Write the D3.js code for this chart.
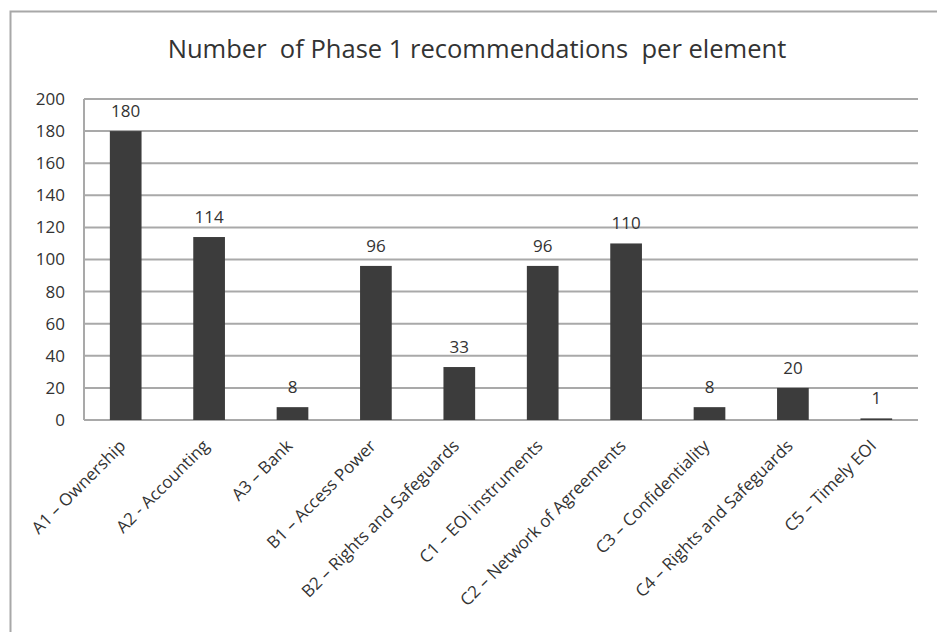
<!DOCTYPE html>
<html>
<head>
<meta charset="utf-8">
<script src="https://cdn.jsdelivr.net/npm/d3@7/dist/d3.min.js"></script>
<style>
  html, body { margin: 0; padding: 0; background: #fff; }
  svg { display: block; }
  text { font-family: "Open Sans", "Noto Sans", sans-serif; fill: #333; }
</style>
</head>
<body>
<svg id="chart" width="937" height="632"></svg>
<script>
const titleText = "Number  of Phase 1 recommendations  per element";
const categories = [
  "A1 – Ownership", "A2 - Accounting", "A3 – Bank", "B1 – Access Power",
  "B2 – Rights and Safeguards", "C1 – EOI instruments", "C2 – Network of Agreements",
  "C3 – Confidentiality", "C4 – Rights and Safeguards", "C5 – Timely EOI"
];
const values = [180, 114, 8, 96, 33, 96, 110, 8, 20, 1];
const yTicks = [0, 20, 40, 60, 80, 100, 120, 140, 160, 180, 200];

const svg = d3.select("#chart");
const W = 937, H = 632;
const m = { left: 84, right: 19, top: 99, bottom: 212 };

// outer frame
svg.append("rect")
  .attr("x", 10.5).attr("y", 11.5)
  .attr("width", 1000).attr("height", 1000)
  .attr("fill", "none").attr("stroke", "#a8a8a8").attr("stroke-width", 2);

const x = d3.scaleBand().domain(categories)
  .range([m.left, W - m.right]).paddingInner(0.62).paddingOuter(0.31);
const y = d3.scaleLinear().domain([0, 200]).range([H - m.bottom, m.top]);

// gridlines
svg.append("g").selectAll("line").data(yTicks).join("line")
  .attr("x1", m.left).attr("x2", W - m.right)
  .attr("y1", d => y(d)).attr("y2", d => y(d))
  .attr("stroke", "#a9a9a9").attr("stroke-width", 2);

// left axis line
svg.append("line")
  .attr("x1", m.left).attr("x2", m.left)
  .attr("y1", y(200)).attr("y2", y(0))
  .attr("stroke", "#a9a9a9").attr("stroke-width", 2);

// y axis labels
const yAxis = d3.axisLeft(y).tickValues(yTicks).tickSize(0).tickPadding(19);
const gy = svg.append("g").attr("transform", `translate(${m.left},0)`).call(yAxis);
gy.select(".domain").remove();
gy.selectAll("text").style("font-size", "17px").attr("fill", "#333")
  .style("font-family", "'Open Sans', sans-serif");

// bars
svg.append("g").selectAll("rect").data(values).join("rect")
  .attr("x", (d, i) => x(categories[i]))
  .attr("width", x.bandwidth())
  .attr("y", d => y(d))
  .attr("height", d => y(0) - y(d))
  .attr("fill", "#3c3c3c");

// value labels
svg.append("g").selectAll("text").data(values).join("text")
  .attr("x", (d, i) => x(categories[i]) + x.bandwidth() / 2)
  .attr("y", d => y(d) - 14)
  .attr("text-anchor", "middle")
  .style("font-size", "17px")
  .text(d => d);

// x axis labels
const xAxis = d3.axisBottom(x).tickSize(0).tickPadding(0);
const gx = svg.append("g").attr("transform", `translate(0,${y(0)})`).call(xAxis);
gx.select(".domain").remove();
gx.selectAll("text")
  .attr("y", 0).attr("dy", 0)
  .attr("transform", "translate(1,27) rotate(-45)")
  .attr("text-anchor", "end")
  .attr("fill", "#333")
  .style("font-size", "17px")
  .style("font-family", "'Open Sans', sans-serif");

// title
const title = svg.append("text")
  .attr("x", 477).attr("y", 58)
  .attr("text-anchor", "middle")
  .style("font-size", "26px")
  .style("white-space", "pre")
  .attr("xml:space", "preserve")
  .text(titleText);
const tw = title.node().getComputedTextLength();
title.style("font-size", (26 * 619 / tw) + "px");
</script>
</body>
</html>
